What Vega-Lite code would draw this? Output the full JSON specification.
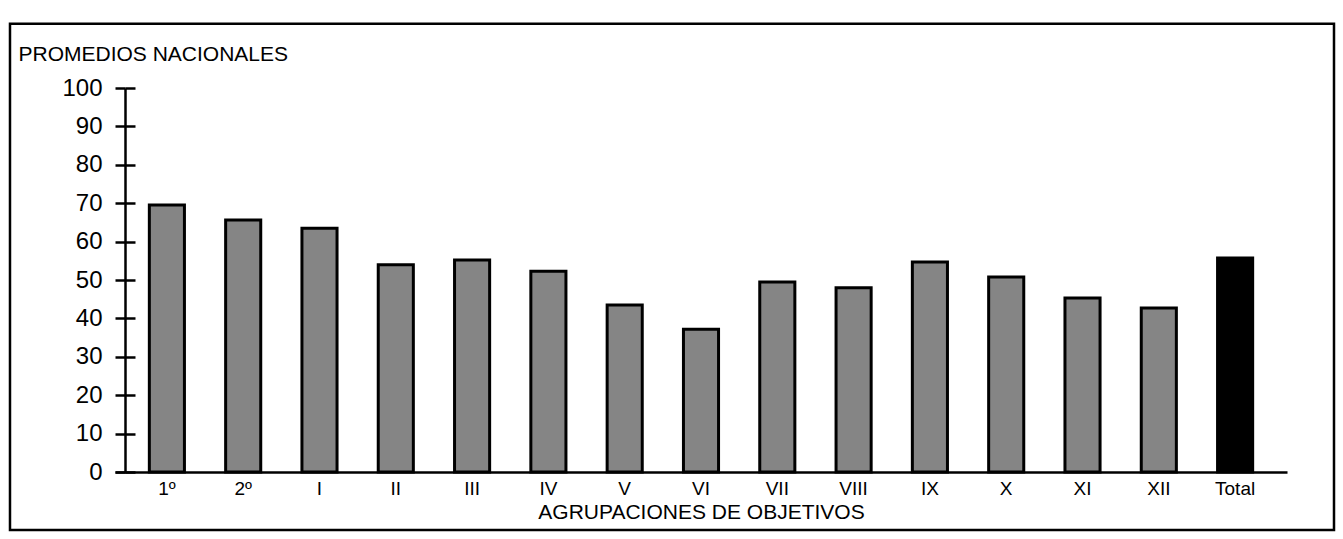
{
  "$schema": "https://vega.github.io/schema/vega-lite/v6.json",
  "width": 1172,
  "height": 384,
  "autosize": {"type": "none"},
  "padding": {"left": 115, "top": 88, "right": 56, "bottom": 67},
  "background": "white",
  "config": {
    "view": {"stroke": null},
    "font": "Liberation Sans",
    "axis": {"labelColor": "black", "titleColor": "black", "domainColor": "black", "tickColor": "black", "grid": false}
  },
  "layer": [
    {
      "data": {"values": [
        {"grupo": "1º", "promedio": 69.5, "tipo": "objetivo"},
        {"grupo": "2º", "promedio": 65.6, "tipo": "objetivo"},
        {"grupo": "I", "promedio": 63.5, "tipo": "objetivo"},
        {"grupo": "II", "promedio": 54.0, "tipo": "objetivo"},
        {"grupo": "III", "promedio": 55.2, "tipo": "objetivo"},
        {"grupo": "IV", "promedio": 52.3, "tipo": "objetivo"},
        {"grupo": "V", "promedio": 43.5, "tipo": "objetivo"},
        {"grupo": "VI", "promedio": 37.2, "tipo": "objetivo"},
        {"grupo": "VII", "promedio": 49.5, "tipo": "objetivo"},
        {"grupo": "VIII", "promedio": 48.0, "tipo": "objetivo"},
        {"grupo": "IX", "promedio": 54.7, "tipo": "objetivo"},
        {"grupo": "X", "promedio": 50.8, "tipo": "objetivo"},
        {"grupo": "XI", "promedio": 45.3, "tipo": "objetivo"},
        {"grupo": "XII", "promedio": 42.7, "tipo": "objetivo"},
        {"grupo": "Total", "promedio": 55.7, "tipo": "total"}
      ]},
      "mark": {"type": "bar", "stroke": "black", "strokeWidth": 3},
      "encoding": {
        "x": {
          "field": "grupo", "type": "nominal", "sort": null,
          "scale": {"paddingInner": 0.54, "paddingOuter": 0.45},
          "axis": {
            "labelAngle": 0, "labelFontSize": 19, "labelPadding": 7, "ticks": false,
            "domainWidth": 2.5,
            "title": "AGRUPACIONES DE OBJETIVOS", "titleFontSize": 21, "titleFontWeight": "normal", "titlePadding": 3
          }
        },
        "y": {
          "field": "promedio", "type": "quantitative",
          "scale": {"domain": [0, 100], "nice": false},
          "axis": {
            "values": [0, 10, 20, 30, 40, 50, 60, 70, 80, 90, 100],
            "offset": -10, "tickSize": 10, "tickWidth": 2.5, "domainWidth": 2.5,
            "labelFontSize": 24, "labelPadding": 13,
            "title": "PROMEDIOS NACIONALES", "titleAngle": 0, "titleAlign": "left", "titleBaseline": "top",
            "titleX": -107, "titleY": -45, "titleFontSize": 21, "titleFontWeight": "normal"
          }
        },
        "fill": {
          "field": "tipo", "type": "nominal",
          "scale": {"domain": ["objetivo", "total"], "range": ["#858585", "#000000"]},
          "legend": null
        }
      }
    },
    {
      "data": {"values": [{"marco": "borde"}]},
      "mark": {"type": "rect", "fill": null, "stroke": "black", "strokeWidth": 2.5},
      "encoding": {
        "x": {"datum": -0.0896, "type": "quantitative", "scale": {"domain": [0, 1]}, "axis": null},
        "x2": {"datum": 1.0401},
        "y": {
          "datum": 116.7, "type": "quantitative",
          "scale": {"domain": [0, 100], "nice": false},
          "axis": {
            "orient": "right", "offset": -1162, "values": [0, 10, 20, 30, 40, 50, 60, 70, 80, 90, 100],
            "labels": false, "domain": false, "tickSize": 10, "tickWidth": 2.5, "title": null
          }
        },
        "y2": {"datum": -15.1}
      }
    }
  ],
  "resolve": {"scale": {"x": "independent"}, "axis": {"y": "independent"}}
}
